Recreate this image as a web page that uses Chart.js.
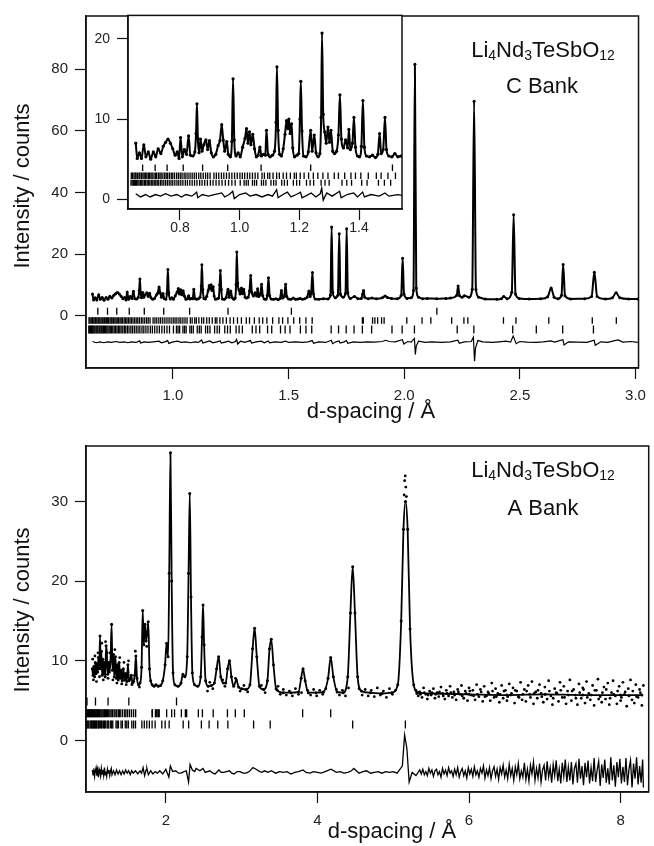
<!DOCTYPE html>
<html>
<head>
<meta charset="utf-8">
<script src="https://cdn.jsdelivr.net/npm/chart.js@4.4.0/dist/chart.umd.min.js"></script>
<style>
  body { margin: 0; background: #fff; width: 654px; height: 846px; position: relative; overflow: hidden; }
  canvas { position: absolute; }
  #topChart { left: 0; top: 0; }
  #insetChart { left: 60px; top: 0; }
  #bottomChart { left: 0; top: 430px; }
</style>
</head>
<body>
<canvas id="topChart" width="654" height="430"></canvas>
<canvas id="insetChart" width="350" height="240"></canvas>
<canvas id="bottomChart" width="654" height="416"></canvas>
<script>
// ---- C bank: observed profile [d, counts] and obs - calc residual ----
const cBankProfile = [
  [0.652, 7.0], [0.657, 5.1], [0.664, 5.8], [0.671, 5.1], [0.679, 6.8], [0.686, 5.3], [0.694, 5.9], [0.702, 5.0],
  [0.711, 5.9], [0.719, 5.3], [0.727, 6.3], [0.736, 5.7], [0.744, 6.6], [0.752, 7.1], [0.760, 7.5], [0.768, 7.0],
  [0.776, 6.3], [0.784, 5.5], [0.791, 5.9], [0.797, 5.1], [0.802, 7.7], [0.808, 5.3], [0.815, 6.2], [0.822, 5.6],
  [0.829, 7.9], [0.835, 5.5], [0.843, 5.4], [0.850, 5.9], [0.854, 8.2], [0.857, 11.9], [0.860, 7.6], [0.864, 5.8],
  [0.869, 7.5], [0.874, 6.0], [0.880, 6.8], [0.887, 7.4], [0.893, 6.2], [0.899, 7.3], [0.905, 5.8], [0.912, 5.3],
  [0.920, 5.6], [0.928, 6.7], [0.934, 7.3], [0.940, 9.3], [0.945, 7.4], [0.950, 6.0], [0.957, 7.2], [0.962, 5.6],
  [0.969, 5.3], [0.974, 7.2], [0.978, 15.0], [0.982, 7.4], [0.988, 5.4], [0.995, 5.8], [1.002, 5.3], [1.010, 6.5],
  [1.018, 7.6], [1.023, 8.8], [1.028, 7.0], [1.033, 8.4], [1.038, 6.8], [1.044, 8.1], [1.050, 6.3], [1.056, 5.3],
  [1.062, 5.5], [1.068, 6.5], [1.073, 5.4], [1.080, 5.6], [1.086, 5.5], [1.090, 8.6], [1.095, 5.6], [1.102, 5.3],
  [1.110, 5.5], [1.117, 6.0], [1.122, 9.6], [1.125, 16.5], [1.129, 8.6], [1.134, 5.6], [1.140, 5.4], [1.146, 6.3],
  [1.152, 8.1], [1.157, 9.8], [1.161, 8.8], [1.165, 10.0], [1.169, 8.2], [1.174, 9.4], [1.178, 6.4], [1.184, 5.3],
  [1.192, 5.5], [1.198, 5.7], [1.202, 10.0], [1.205, 14.7], [1.209, 8.5], [1.214, 5.4], [1.222, 5.3], [1.230, 5.9],
  [1.238, 8.6], [1.243, 6.0], [1.250, 8.0], [1.256, 5.8], [1.263, 5.3], [1.269, 5.7], [1.273, 10.2], [1.276, 20.7],
  [1.280, 10.6], [1.285, 8.4], [1.290, 7.0], [1.296, 9.0], [1.301, 7.1], [1.306, 8.6], [1.312, 6.0], [1.318, 5.7],
  [1.325, 6.0], [1.331, 8.0], [1.336, 13.0], [1.341, 7.5], [1.348, 6.4], [1.355, 7.4], [1.362, 6.4], [1.366, 8.7],
  [1.371, 6.2], [1.378, 7.0], [1.383, 10.2], [1.388, 6.5], [1.395, 5.4], [1.402, 5.3], [1.408, 6.6], [1.413, 12.3],
  [1.418, 6.5], [1.425, 5.4], [1.435, 5.3], [1.445, 5.5], [1.455, 5.2], [1.463, 5.6], [1.469, 8.2], [1.474, 5.7],
  [1.481, 6.2], [1.487, 10.2], [1.492, 6.2], [1.500, 5.4], [1.510, 5.3], [1.520, 5.7], [1.530, 5.3], [1.540, 5.4],
  [1.550, 5.6], [1.560, 5.3], [1.570, 5.5], [1.580, 6.0], [1.588, 8.0], [1.593, 6.2], [1.598, 7.6], [1.603, 14.0],
  [1.608, 7.0], [1.615, 5.4], [1.630, 5.3], [1.650, 5.5], [1.670, 5.4], [1.681, 6.6], [1.686, 28.8], [1.691, 7.5],
  [1.702, 5.8], [1.713, 6.6], [1.719, 26.6], [1.724, 7.0], [1.736, 6.0], [1.746, 7.2], [1.751, 28.2], [1.756, 7.5],
  [1.767, 5.6], [1.785, 6.2], [1.800, 5.5], [1.814, 5.6], [1.820, 7.0], [1.824, 8.2], [1.829, 6.0], [1.845, 5.5],
  [1.860, 5.7], [1.880, 5.5], [1.905, 5.8], [1.917, 6.4], [1.927, 5.9], [1.945, 5.6], [1.970, 5.5], [1.987, 6.6],
  [1.993, 18.6], [1.999, 7.0], [2.012, 5.6], [2.030, 5.8], [2.040, 8.2], [2.046, 81.6], [2.052, 9.0], [2.062, 6.0],
  [2.080, 5.5], [2.100, 5.6], [2.140, 5.5], [2.180, 5.6], [2.200, 5.7], [2.227, 6.6], [2.233, 9.6], [2.239, 6.5],
  [2.250, 6.0], [2.260, 6.5], [2.280, 6.0], [2.294, 8.6], [2.302, 69.6], [2.310, 8.5], [2.322, 6.0], [2.350, 5.4],
  [2.400, 5.3], [2.420, 5.5], [2.430, 6.2], [2.445, 5.5], [2.465, 7.6], [2.473, 32.8], [2.481, 7.0], [2.497, 5.6],
  [2.540, 5.4], [2.590, 5.5], [2.620, 6.1], [2.635, 9.0], [2.648, 6.0], [2.665, 5.5], [2.680, 6.6], [2.687, 16.6],
  [2.695, 6.5], [2.720, 5.4], [2.780, 5.5], [2.810, 6.2], [2.822, 14.1], [2.834, 6.2], [2.870, 5.4], [2.900, 5.8],
  [2.916, 7.4], [2.932, 5.8], [2.970, 5.4], [3.010, 5.4]
];

const cBankDiff = [
  [0.652, 0.2], [0.668, -0.2], [0.685, 0.1], [0.700, -0.2], [0.718, 0.1], [0.735, -0.1], [0.752, 0.2], [0.770, -0.1],
  [0.790, 0.1], [0.805, -0.2], [0.820, 0.1], [0.840, -0.1], [0.856, 0.4], [0.860, -0.3], [0.875, 0.1], [0.895, -0.1],
  [0.915, 0.1], [0.940, 0.3], [0.950, -0.2], [0.965, 0.1], [0.977, 0.5], [0.982, -0.4], [1.000, 0.1], [1.020, 0.3],
  [1.035, -0.1], [1.055, 0.1], [1.075, -0.2], [1.095, 0.1], [1.110, -0.1], [1.124, 0.7], [1.129, -0.3], [1.145, 0.1],
  [1.160, 0.4], [1.172, -0.2], [1.190, 0.1], [1.204, 0.4], [1.209, -0.3], [1.225, 0.0], [1.240, 0.3], [1.255, -0.2],
  [1.270, 0.2], [1.275, 0.9], [1.280, -0.6], [1.292, 0.3], [1.310, -0.1], [1.335, 0.5], [1.340, -0.3], [1.360, 0.1],
  [1.382, 0.3], [1.395, -0.2], [1.412, 0.4], [1.418, -0.2], [1.440, 0.1], [1.468, -0.1], [1.487, 0.3], [1.500, -0.1],
  [1.530, 0.1], [1.560, -0.1], [1.585, 0.1], [1.602, 0.5], [1.608, -0.4], [1.630, 0.1], [1.660, -0.1], [1.685, 0.6],
  [1.690, -0.5], [1.705, 0.1], [1.718, 0.4], [1.723, -0.3], [1.740, 0.1], [1.750, 0.5], [1.756, -0.4], [1.780, 0.1],
  [1.810, -0.1], [1.840, 0.1], [1.870, 0.0], [1.905, 0.2], [1.920, 0.6], [1.935, 0.2], [1.960, 0.1], [1.992, 0.8],
  [1.998, -0.6], [2.015, 0.2], [2.030, 0.0], [2.044, 1.2], [2.048, -4.0], [2.052, -1.2], [2.062, 0.3], [2.090, -0.1],
  [2.120, 0.1], [2.160, -0.1], [2.200, 0.1], [2.232, 0.6], [2.238, -0.4], [2.260, 0.1], [2.290, 0.2], [2.299, 1.6],
  [2.304, -6.2], [2.308, -2.0], [2.318, 0.5], [2.340, 0.1], [2.380, -0.1], [2.410, 0.1], [2.440, 0.3], [2.460, 0.0],
  [2.471, 2.0], [2.477, 0.9], [2.484, -0.5], [2.500, 0.2], [2.530, 0.0], [2.570, -0.1], [2.600, 0.1], [2.634, 0.4],
  [2.650, 0.0], [2.686, 0.8], [2.691, -0.9], [2.710, 0.1], [2.750, 0.0], [2.790, -0.1], [2.821, 0.6], [2.826, -1.0],
  [2.850, 0.1], [2.880, -0.1], [2.910, 0.5], [2.925, 0.7], [2.945, 0.0], [2.980, 0.2], [3.010, -0.1]
];

// ---- A bank: calculated profile, observed points off the curve, residual ----
const aBankProfile = [
  [1.030, 9.0], [1.040, 8.2], [1.050, 9.3], [1.060, 8.0], [1.070, 9.8], [1.080, 8.4], [1.090, 9.6], [1.100, 8.6],
  [1.110, 10.4], [1.120, 9.0], [1.132, 13.1], [1.142, 9.0], [1.150, 11.2], [1.160, 8.2], [1.170, 10.2], [1.180, 8.4],
  [1.190, 9.8], [1.200, 8.0], [1.212, 11.9], [1.222, 11.0], [1.232, 8.3], [1.245, 9.8], [1.255, 8.6], [1.270, 9.9],
  [1.285, 14.6], [1.296, 8.8], [1.310, 10.8], [1.320, 8.0], [1.335, 10.5], [1.348, 7.8], [1.360, 9.5], [1.372, 7.6],
  [1.385, 9.8], [1.398, 7.8], [1.410, 8.8], [1.425, 7.5], [1.440, 9.0], [1.455, 7.6], [1.470, 8.4], [1.485, 7.4],
  [1.500, 9.5], [1.515, 7.5], [1.530, 7.7], [1.545, 8.2], [1.560, 7.2], [1.575, 7.4], [1.590, 8.2], [1.605, 10.6],
  [1.620, 7.8], [1.640, 7.0], [1.660, 7.2], [1.680, 9.2], [1.695, 16.3], [1.710, 12.0], [1.725, 14.6], [1.740, 12.5],
  [1.755, 13.5], [1.768, 14.9], [1.785, 9.0], [1.800, 7.5], [1.820, 7.0], [1.845, 6.8], [1.870, 7.0], [1.900, 6.8],
  [1.930, 6.9], [1.960, 7.5], [1.990, 9.5], [2.010, 12.2], [2.030, 10.5], [2.045, 21.0], [2.061, 36.1], [2.077, 20.0],
  [2.095, 8.5], [2.120, 7.0], [2.160, 6.8], [2.200, 7.2], [2.225, 8.3], [2.250, 8.0], [2.282, 10.5], [2.300, 21.0],
  [2.316, 31.0], [2.332, 18.0], [2.350, 8.5], [2.380, 7.0], [2.420, 6.8], [2.460, 8.0], [2.478, 13.0], [2.491, 17.0],
  [2.505, 12.0], [2.525, 7.5], [2.560, 6.8], [2.600, 6.9], [2.640, 7.2], [2.670, 9.0], [2.697, 10.5], [2.725, 8.0],
  [2.760, 7.2], [2.790, 7.2], [2.815, 9.0], [2.840, 10.0], [2.865, 8.0], [2.895, 6.8], [2.930, 7.6], [2.960, 6.7],
  [3.000, 6.5], [3.060, 6.4], [3.110, 7.0], [3.145, 11.5], [3.171, 14.1], [3.200, 10.5], [3.235, 6.8], [3.290, 6.4],
  [3.340, 7.5], [3.368, 11.5], [3.391, 12.7], [3.420, 9.5], [3.455, 6.5], [3.550, 6.0], [3.650, 6.0], [3.750, 6.1],
  [3.785, 7.8], [3.810, 9.0], [3.838, 7.5], [3.880, 6.0], [3.980, 6.0], [4.080, 6.1], [4.140, 7.8], [4.175, 10.4],
  [4.210, 8.0], [4.260, 6.1], [4.340, 6.0], [4.400, 8.0], [4.435, 16.0], [4.465, 21.8], [4.495, 16.0], [4.530, 8.0],
  [4.580, 6.2], [4.700, 6.0], [4.850, 5.9], [4.980, 6.0], [5.060, 7.0], [5.105, 15.0], [5.135, 26.5], [5.162, 30.0],
  [5.190, 26.5], [5.222, 14.0], [5.270, 7.0], [5.330, 6.0], [5.500, 5.9], [6.000, 5.8], [6.500, 5.7], [7.000, 5.8],
  [7.500, 5.7], [8.000, 5.7], [8.280, 5.7]
];

const aBankScatter = [
  [1.035, 10.2], [1.045, 7.6], [1.065, 10.6], [1.085, 7.4], [1.105, 11.0], [1.125, 8.0], [1.155, 12.2], [1.175, 7.6],
  [1.205, 12.4], [1.238, 7.8], [1.262, 11.0], [1.302, 7.6], [1.328, 11.4], [1.355, 7.2], [1.392, 10.4], [1.418, 7.1],
  [1.448, 9.8], [1.478, 7.0], [1.508, 10.0], [1.552, 7.0], [1.598, 11.2], [1.652, 6.7], [1.702, 13.6], [1.748, 11.8],
  [2.55, 6.2], [2.58, 7.3], [2.62, 6.5], [2.75, 7.6], [2.78, 6.8], [2.92, 7.8], [2.98, 6.2], [3.03, 6.9],
  [3.08, 6.1], [3.26, 6.9], [3.31, 6.0], [3.48, 6.8],
  [3.47, 6.3], [3.51, 5.8], [3.55, 6.4], [3.59, 5.7], [3.63, 6.2], [3.67, 5.6], [3.71, 6.5], [3.75, 5.8],
  [3.79, 6.0], [3.87, 6.3], [3.91, 5.7], [3.95, 6.4], [3.99, 5.6], [4.03, 6.3], [4.07, 5.8], [4.11, 6.5],
  [4.25, 6.4], [4.29, 5.7], [4.33, 6.3], [4.37, 5.6], [4.41, 6.6], [4.55, 6.5], [4.59, 5.7], [4.63, 6.4],
  [4.67, 5.6], [4.71, 6.3], [4.75, 5.5], [4.79, 6.6], [4.83, 5.7], [4.87, 6.2], [4.91, 5.4], [4.95, 6.5],
  [4.99, 5.8], [5.03, 6.3],
  [5.144, 30.8], [5.150, 32.6], [5.158, 33.2], [5.166, 31.8], [5.174, 30.6],
  [5.30, 6.3], [5.33, 5.6], [5.35, 6.1], [5.38, 5.4], [5.40, 6.6], [5.43, 5.8], [5.45, 5.2], [5.48, 6.2],
  [5.50, 5.7], [5.53, 6.5], [5.55, 5.3], [5.58, 6.0], [5.60, 5.5], [5.63, 6.7], [5.65, 5.9], [5.68, 5.2],
  [5.70, 6.3], [5.73, 5.6], [5.75, 6.8], [5.78, 5.4], [5.80, 6.1], [5.83, 5.1], [5.85, 6.4], [5.88, 5.8],
  [5.90, 6.9], [5.93, 5.3], [5.95, 6.2], [5.98, 5.0], [6.00, 6.6], [6.03, 5.7], [6.05, 6.3], [6.08, 5.1],
  [6.10, 7.0], [6.13, 5.5], [6.15, 6.4], [6.18, 4.9], [6.20, 6.8], [6.23, 5.6], [6.25, 6.1], [6.28, 5.0],
  [6.30, 7.2], [6.33, 5.4], [6.35, 6.5], [6.38, 5.9], [6.40, 4.8], [6.43, 6.9], [6.45, 5.3], [6.48, 6.3],
  [6.50, 5.0], [6.53, 7.1], [6.55, 5.7], [6.58, 6.6], [6.60, 4.7], [6.63, 6.2], [6.65, 5.5], [6.68, 7.3],
  [6.70, 5.1], [6.73, 6.4], [6.75, 4.9], [6.78, 6.9], [6.80, 5.8], [6.83, 7.4], [6.85, 4.6], [6.88, 6.1],
  [6.90, 5.3], [6.93, 7.0], [6.95, 5.9], [6.98, 4.8], [7.00, 6.7], [7.03, 5.2], [7.05, 7.5], [7.08, 5.6],
  [7.10, 4.5], [7.13, 6.5], [7.15, 6.0], [7.18, 4.9], [7.20, 7.3], [7.23, 5.4], [7.25, 6.8], [7.28, 4.6],
  [7.30, 6.2], [7.33, 7.6], [7.35, 5.0], [7.38, 6.4], [7.40, 5.7], [7.43, 4.5], [7.45, 7.1], [7.48, 5.3],
  [7.50, 6.6], [7.53, 4.7], [7.55, 7.4], [7.58, 5.9], [7.60, 5.1], [7.63, 6.9], [7.65, 4.4], [7.68, 6.3],
  [7.70, 7.7], [7.73, 5.5], [7.75, 4.8], [7.78, 6.7], [7.80, 5.2], [7.83, 7.2], [7.85, 4.5], [7.88, 6.0],
  [7.90, 7.5], [7.93, 5.6], [7.95, 4.6], [7.98, 6.8], [8.00, 5.0], [8.03, 7.3], [8.05, 5.8], [8.08, 4.3],
  [8.10, 6.5], [8.13, 7.6], [8.15, 5.1], [8.18, 4.7], [8.20, 7.0], [8.23, 5.4], [8.25, 6.4], [8.28, 4.4],
  [8.30, 6.9],
  [5.31, 5.9], [5.36, 5.8], [5.41, 6.0], [5.46, 5.7], [5.51, 6.0], [5.56, 5.8], [5.61, 6.1], [5.66, 5.6],
  [5.71, 5.9], [5.76, 6.0], [5.81, 5.7], [5.86, 6.1], [5.91, 5.6], [5.96, 5.9], [6.01, 6.2], [6.06, 5.6],
  [6.11, 5.8], [6.16, 6.1], [6.21, 5.5], [6.26, 5.9], [6.31, 6.2], [6.36, 5.5], [6.41, 5.8], [6.46, 6.2],
  [6.51, 5.5], [6.56, 5.9], [6.61, 6.3], [6.66, 5.4], [6.71, 5.8], [6.76, 6.2], [6.81, 5.4], [6.86, 5.9],
  [6.91, 6.3], [6.96, 5.5], [7.01, 5.8], [7.06, 6.2], [7.11, 5.3], [7.16, 5.9], [7.21, 6.3], [7.26, 5.4],
  [7.31, 5.7], [7.36, 6.2], [7.41, 5.3], [7.46, 6.0], [7.51, 6.4], [7.56, 5.4], [7.61, 5.7], [7.66, 6.3],
  [7.71, 5.2], [7.76, 6.0], [7.81, 6.4], [7.86, 5.3], [7.91, 5.8], [7.96, 6.2], [8.01, 5.4], [8.06, 6.1],
  [8.11, 5.6], [8.16, 6.2], [8.21, 5.5], [8.26, 6.0]
];

const aBankDiff = [
  [1.03, 0.3], [1.04, -0.3], [1.05, 0.5], [1.06, -0.5], [1.07, 0.2], [1.08, 0.6], [1.09, -0.4], [1.10, 0.3],
  [1.11, -0.6], [1.12, 0.4], [1.13, 0.0], [1.14, -0.5], [1.15, 0.5], [1.16, -0.2], [1.17, 0.3], [1.18, -0.4],
  [1.19, 0.6], [1.20, -0.3], [1.21, 0.1], [1.22, -0.5], [1.23, 0.4], [1.24, -0.1], [1.25, 0.3], [1.26, -0.4],
  [1.27, 0.2], [1.28, 0.5], [1.29, -0.3], [1.31, 0.2], [1.33, -0.3], [1.35, 0.3], [1.37, -0.2], [1.39, 0.2],
  [1.41, -0.3], [1.43, 0.2], [1.45, -0.2], [1.47, 0.3], [1.49, -0.1], [1.51, 0.2], [1.53, -0.3], [1.55, 0.2],
  [1.57, -0.1], [1.60, 0.2], [1.63, -0.2], [1.66, 0.2], [1.68, -0.1], [1.70, 0.6], [1.72, -0.4], [1.74, 0.3],
  [1.75, 0.5], [1.77, -0.3], [1.80, 0.2], [1.83, -0.2], [1.86, 0.1], [1.89, -0.1], [1.92, 0.2], [1.96, -0.2],
  [2.00, 0.4], [2.04, -0.6], [2.06, 0.8], [2.09, 0.1], [2.13, 0.2], [2.17, -0.1], [2.20, -0.1], [2.24, 0.1],
  [2.27, 0.2], [2.30, -1.2], [2.32, 1.0], [2.35, 0.3], [2.38, 0.1], [2.40, 0.5], [2.45, 0.2], [2.49, 0.5],
  [2.52, 0.0], [2.55, 0.1], [2.58, 0.2], [2.62, -0.1], [2.65, -0.2], [2.70, 0.3], [2.73, 0.0], [2.76, 0.0],
  [2.80, 0.1], [2.84, 0.2], [2.87, -0.1], [2.90, -0.2], [2.94, 0.1], [2.98, 0.1], [3.02, -0.1], [3.06, -0.1],
  [3.10, 0.1], [3.15, 0.6], [3.19, 0.4], [3.24, 0.1], [3.27, 0.0], [3.30, 0.2], [3.35, 0.0], [3.39, 0.2],
  [3.45, -0.1], [3.50, 0.1], [3.55, 0.0], [3.60, 0.1], [3.65, -0.2], [3.70, 0.0], [3.75, 0.1], [3.81, 0.3],
  [3.85, 0.0], [3.90, -0.1], [3.95, 0.1], [4.00, 0.0], [4.05, -0.1], [4.10, 0.1], [4.18, 0.4], [4.25, 0.0],
  [4.30, 0.1], [4.35, -0.1], [4.40, 0.0], [4.45, 0.2], [4.48, 0.5], [4.55, -0.1], [4.60, 0.1], [4.65, 0.2],
  [4.70, -0.1], [4.75, 0.0], [4.80, 0.1], [4.85, -0.1], [4.90, 0.1], [4.95, 0.0], [5.00, 0.1], [5.05, -0.1],
  [5.12, 0.8], [5.15, 4.7], [5.18, 3.0], [5.21, -1.2], [5.25, 0.0], [5.30, -0.4],
  [5.35, 0.3], [5.37, -0.2], [5.39, 0.4], [5.41, -0.3], [5.43, 0.1], [5.45, -0.4], [5.47, 0.5], [5.49, -0.1],
  [5.51, 0.3], [5.53, -0.5], [5.55, 0.2], [5.57, 0.4], [5.59, -0.3], [5.61, 0.1], [5.63, -0.6], [5.65, 0.5],
  [5.67, -0.2], [5.69, 0.3], [5.71, -0.4], [5.73, 0.6], [5.75, -0.1], [5.77, 0.2], [5.79, -0.5], [5.81, 0.4],
  [5.83, -0.3], [5.85, 0.6], [5.87, -0.6], [5.89, 0.1], [5.91, 0.5], [5.93, -0.4], [5.95, 0.2], [5.97, -0.7],
  [5.99, 0.6], [6.01, -0.2], [6.03, 0.4], [6.05, -0.5], [6.07, 0.7], [6.09, -0.3], [6.11, 0.2], [6.13, -0.6],
  [6.15, 0.5], [6.17, -0.1], [6.19, 0.8], [6.21, -0.7], [6.23, 0.3], [6.25, -0.4], [6.27, 0.6], [6.29, -0.8],
  [6.31, 0.2], [6.33, 0.7], [6.35, -0.5], [6.37, 0.4], [6.39, -0.9], [6.41, 0.6], [6.43, -0.2], [6.45, 0.9],
  [6.47, -0.6], [6.49, 0.3], [6.51, -0.8], [6.53, 1.0], [6.55, -0.4], [6.57, 0.5], [6.59, -1.0], [6.61, 0.7],
  [6.63, -0.3], [6.65, 1.1], [6.67, -0.8], [6.69, 0.2], [6.71, -0.6], [6.73, 1.2], [6.75, -0.9], [6.77, 0.4],
  [6.79, -1.1], [6.81, 0.9], [6.83, -0.2], [6.85, 1.3], [6.87, -1.0], [6.89, 0.5], [6.91, -0.7], [6.93, 1.1],
  [6.95, -1.2], [6.97, 0.3], [6.99, 0.9], [7.01, -1.0], [7.03, 1.4], [7.05, -0.6], [7.07, 0.6], [7.09, -1.3],
  [7.11, 1.0], [7.13, -0.4], [7.15, 1.5], [7.17, -1.1], [7.19, 0.4], [7.21, -1.4], [7.23, 1.2], [7.25, -0.5],
  [7.27, 1.6], [7.29, -1.2], [7.31, 0.7], [7.33, -1.0], [7.35, 1.3], [7.37, -1.5], [7.39, 0.5], [7.41, 1.1],
  [7.43, -1.3], [7.45, 1.7], [7.47, -0.8], [7.49, 0.8], [7.51, -1.6], [7.53, 1.2], [7.55, -0.6], [7.57, 1.5],
  [7.59, -1.4], [7.61, 0.6], [7.63, -1.1], [7.65, 1.8], [7.67, -1.2], [7.69, 0.3], [7.71, 1.4], [7.73, -1.7],
  [7.75, 1.0], [7.77, -0.7], [7.79, 1.6], [7.81, -1.3], [7.83, 0.5], [7.85, -1.5], [7.87, 1.9], [7.89, -1.0],
  [7.91, 0.9], [7.93, -1.8], [7.95, 1.3], [7.97, -0.6], [7.99, 1.7], [8.01, -1.4], [8.03, 0.7], [8.05, -1.2],
  [8.07, 1.8], [8.09, -1.6], [8.11, 0.4], [8.13, 1.5], [8.15, -1.9], [8.17, 1.1], [8.19, -0.8], [8.21, 1.9],
  [8.23, -1.5], [8.25, 0.8], [8.27, -1.3], [8.29, 1.6], [8.30, -1.9]
];

// ---- reflection positions (d, Å) for the three refined phases ----
const reflVanadium = [0.675, 0.717, 0.757, 0.811, 0.876, 0.960, 1.072, 1.238, 1.512, 2.141];

const reflPhase2 = [
  0.637, 0.641, 0.646, 0.650, 0.653, 0.658, 0.663, 0.666, 0.671, 0.676, 0.680, 0.684, 0.689, 0.694, 0.698, 0.703,
  0.707, 0.713, 0.718, 0.722, 0.728, 0.733, 0.737, 0.743, 0.749, 0.754, 0.759, 0.765, 0.771, 0.776, 0.782, 0.789,
  0.795, 0.801, 0.807, 0.814, 0.820, 0.827, 0.834, 0.841, 0.848, 0.855, 0.863, 0.870, 0.878, 0.886, 0.893, 0.901,
  0.914, 0.922, 0.930, 0.939, 0.947, 0.956, 0.965, 0.974, 0.983, 0.992, 1.001, 1.009, 1.017, 1.026, 1.034, 1.043,
  1.052, 1.061, 1.075, 1.083, 1.094, 1.101, 1.112, 1.124, 1.133, 1.146, 1.157, 1.170, 1.183, 1.190, 1.203, 1.216,
  1.231, 1.247, 1.262, 1.279, 1.296, 1.317, 1.331, 1.352, 1.373, 1.388, 1.406, 1.431, 1.458, 1.474, 1.497, 1.522,
  1.548, 1.575, 1.602, 1.819, 1.823, 1.863, 1.873, 1.885, 1.902, 1.913, 2.011, 2.077, 2.115, 2.205, 2.258, 2.275,
  2.429, 2.483, 2.625, 2.813, 2.917, 3.035, 3.805, 4.175
];

const reflGarnet = [
  0.636, 0.640, 0.644, 0.648, 0.651, 0.655, 0.659, 0.663, 0.668, 0.672, 0.676, 0.681, 0.685, 0.690, 0.694, 0.699,
  0.704, 0.709, 0.714, 0.719, 0.724, 0.729, 0.735, 0.740, 0.746, 0.752, 0.758, 0.764, 0.770, 0.776, 0.783, 0.790,
  0.796, 0.803, 0.810, 0.818, 0.825, 0.833, 0.841, 0.849, 0.857, 0.866, 0.874, 0.883, 0.892, 0.902, 0.911, 0.921,
  0.931, 0.941, 0.952, 0.963, 0.974, 0.985, 1.002, 1.015, 1.022, 1.029, 1.043, 1.050, 1.057, 1.073, 1.080, 1.088,
  1.105, 1.114, 1.122, 1.141, 1.150, 1.160, 1.180, 1.191, 1.201, 1.224, 1.236, 1.248, 1.273, 1.286, 1.300, 1.343,
  1.359, 1.375, 1.409, 1.427, 1.465, 1.485, 1.506, 1.551, 1.575, 1.600, 1.684, 1.716, 1.749, 1.783, 1.819, 1.859,
  1.947, 1.991, 2.044, 2.229, 2.301, 2.469, 2.571, 2.685, 2.818, 3.158, 3.377, 4.465, 5.160
];

// ---- axis tick values ----
const topXTicks = [1.0, 1.5, 2.0, 2.5, 3.0];
const topYTicks = [0, 20, 40, 60, 80];
const insetXTicks = [0.8, 1.0, 1.2, 1.4];
const insetYTicks = [0, 10, 20];
const bottomXTicks = [2, 4, 6, 8];
const bottomYTicks = [0, 10, 20, 30];

const formulaParts = [['Li', false], ['4', true], ['Nd', false], ['3', true], ['TeSbO', false], ['12', true]];

const FONT = '"Liberation Sans", Arial, Helvetica, sans-serif';
const INK = '#111';

const toXY = (pts, dy = 0) => pts.map(([x, y]) => ({ x, y: y + dy }));
const atLevel = (ds, y) => ds.map(x => ({ x, y }));

// box around the plotting area, optional white fill for the inset
const framePlugin = {
    id: 'frame',
    beforeDraw(chart, args, opts) {
        if (!opts.fill) return;
        const { left, top, right, bottom } = chart.chartArea;
        chart.ctx.save();
        chart.ctx.fillStyle = '#fff';
        chart.ctx.fillRect(left, top, right - left, bottom - top);
        chart.ctx.restore();
    },
    afterDraw(chart) {
        const { left, top, right, bottom } = chart.chartArea;
        const ctx = chart.ctx;
        ctx.save();
        ctx.strokeStyle = INK;
        ctx.lineWidth = 1.5;
        ctx.strokeRect(left, top, right - left, bottom - top);
        ctx.restore();
    },
};

// free-standing labels (axis titles, sample name with subscripts)
const notesPlugin = {
    id: 'notes',
    afterDraw(chart, args, opts) {
        const ctx = chart.ctx;
        (opts.items || []).forEach((item) => {
            const parts = item.parts || [[item.text, false]];
            const fontFor = (sub) => `${sub ? item.subSize : item.size}px ${FONT}`;
            ctx.save();
            ctx.fillStyle = INK;
            ctx.textBaseline = 'alphabetic';
            ctx.translate(item.x, item.y);
            if (item.rotate) ctx.rotate(item.rotate);
            let total = 0;
            parts.forEach(([t, sub]) => {
                ctx.font = fontFor(sub);
                total += ctx.measureText(t).width;
            });
            let x = -total / 2;
            parts.forEach(([t, sub]) => {
                ctx.font = fontFor(sub);
                ctx.fillText(t, x, sub ? item.subDrop : 0);
                x += ctx.measureText(t).width;
            });
            ctx.restore();
        });
    },
};

Chart.register(framePlugin, notesPlugin);

function axis(min, max, values, digits, boxSize, fontSize, pad) {
    return {
        type: 'linear',
        min,
        max,
        afterBuildTicks: (scale) => {
            scale.ticks = values.map((v) => ({ value: v }));
        },
        afterFit: (scale) => {
            if (scale.isHorizontal()) scale.height = boxSize;
            else scale.width = boxSize;
        },
        grid: {
            drawOnChartArea: false,
            drawTicks: true,
            tickLength: 11,
            tickColor: INK,
            tickWidth: 1.2,
        },
        border: { display: true, color: INK, width: 1.5 },
        ticks: {
            color: '#222',
            font: { family: FONT, size: fontSize },
            padding: pad,
            maxRotation: 0,
            autoSkip: false,
            callback: (v) => Number(v).toFixed(digits),
        },
    };
}

function profileLine(points, width) {
    return {
        data: points,
        showLine: true,
        borderColor: '#000',
        borderWidth: width,
        pointRadius: 0,
        cubicInterpolationMode: 'monotone',
    };
}

function dots(points, radius) {
    return {
        data: points,
        showLine: false,
        pointRadius: radius,
        pointBorderWidth: 0,
        pointBackgroundColor: '#000',
    };
}

function diffLine(points, width) {
    return {
        data: points,
        showLine: true,
        borderColor: '#000',
        borderWidth: width,
        pointRadius: 0,
        tension: 0,
    };
}

function reflRow(positions, level, halfLength) {
    return {
        data: atLevel(positions, level),
        showLine: false,
        pointStyle: 'line',
        rotation: 90,
        pointRadius: halfLength,
        pointBorderWidth: 1.3,
        pointBorderColor: '#000',
    };
}

function baseOptions(padding, scales, plugins) {
    return {
        responsive: false,
        animation: false,
        events: [],
        layout: { padding },
        scales,
        plugins: Object.assign({ legend: { display: false }, tooltip: { enabled: false } }, plugins),
    };
}

const sampleName = (x, y) => ({ parts: formulaParts, x, y, size: 22, subSize: 14, subDrop: 3 });

// C bank, full range
new Chart(document.getElementById('topChart'), {
    type: 'scatter',
    data: {
        datasets: [
            profileLine(toXY(cBankProfile), 2.0),
            dots(toXY(cBankProfile), 1.5),
            diffLine(toXY(cBankDiff, -8.6), 1.2),
            reflRow(reflVanadium, 1.4, 3.5),
            reflRow(reflPhase2, -1.6, 3.3),
            reflRow(reflGarnet, -4.5, 4),
        ],
    },
    options: baseOptions(
        { top: 11, right: 9, left: 0, bottom: 0 },
        {
            x: axis(0.624, 3.013, topXTicks, 1, 62, 15, 8),
            y: axis(-17, 97.3, topYTicks, 0, 86, 15, 7),
        },
        {
            frame: { fill: false },
            notes: {
                items: [
                    { text: 'Intensity / counts', x: 29, y: 186, size: 22, rotate: -Math.PI / 2 },
                    { text: 'd-spacing / Å', x: 371, y: 418, size: 22 },
                    sampleName(543, 57),
                    { text: 'C Bank', x: 542, y: 93, size: 22 },
                ],
            },
        },
    ),
});

// C bank, low d-spacing detail
new Chart(document.getElementById('insetChart'), {
    type: 'scatter',
    data: {
        datasets: [
            profileLine(toXY(cBankProfile), 2.0),
            dots(toXY(cBankProfile), 1.6),
            diffLine(toXY(cBankDiff, 0.5), 1.3),
            reflRow(reflVanadium, 3.94, 3.2),
            reflRow(reflPhase2, 2.93, 3.2),
            reflRow(reflGarnet, 2.07, 2.9),
        ],
    },
    options: baseOptions(
        { top: 11, right: 8, left: 0, bottom: 0 },
        {
            x: axis(0.626, 1.544, insetXTicks, 1, 31, 14, 0),
            y: axis(-1.2, 22.9, insetYTicks, 0, 68, 14, 7),
        },
        { frame: { fill: true } },
    ),
});

// A bank
new Chart(document.getElementById('bottomChart'), {
    type: 'scatter',
    data: {
        datasets: [
            profileLine(toXY(aBankProfile), 1.8),
            dots(toXY(aBankProfile), 1.5),
            dots(toXY(aBankScatter), 1.4),
            diffLine(toXY(aBankDiff, -4.0), 1.3),
            reflRow(reflVanadium, 4.88, 4),
            reflRow(reflPhase2, 3.41, 4),
            reflRow(reflGarnet, 2.01, 4),
        ],
    },
    options: baseOptions(
        { top: 6, right: 4, left: 0, bottom: 0 },
        {
            x: axis(0.947, 8.37, bottomXTicks, 0, 54, 15, 9),
            y: axis(-6.46, 36.95, bottomYTicks, 0, 86, 15, 7),
        },
        {
            frame: { fill: false },
            notes: {
                items: [
                    { text: 'Intensity / counts', x: 29, y: 180, size: 22, rotate: -Math.PI / 2 },
                    { text: 'd-spacing / Å', x: 392, y: 408, size: 22 },
                    sampleName(543, 47),
                    { text: 'A Bank', x: 543, y: 85, size: 22 },
                ],
            },
        },
    ),
});
</script>
</body>
</html>
